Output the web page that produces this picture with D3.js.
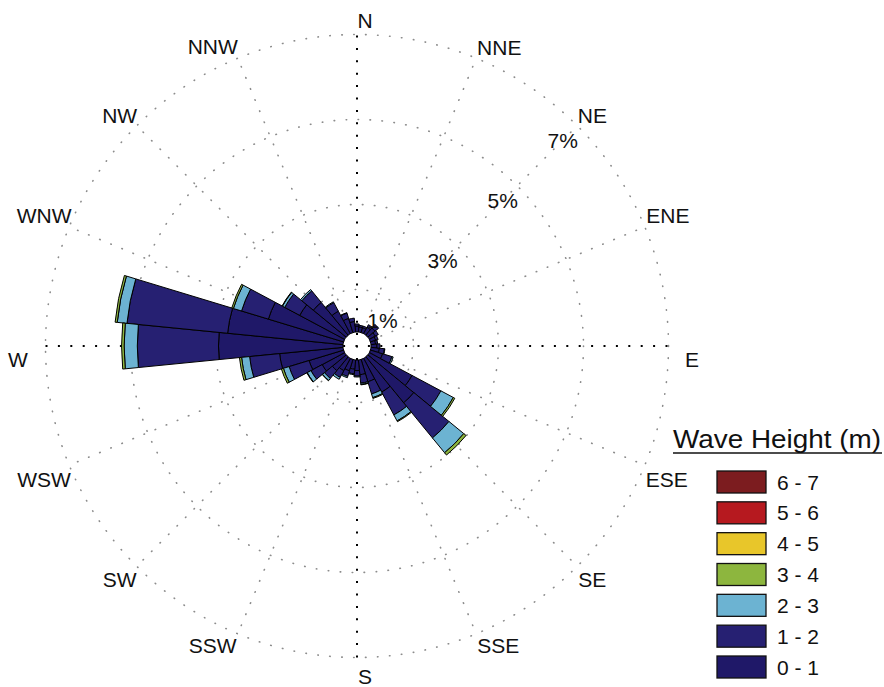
<!DOCTYPE html>
<html>
<head>
<meta charset="utf-8">
<script src="https://cdn.jsdelivr.net/npm/d3@7"></script>
<style>
  html, body { margin: 0; padding: 0; background: #ffffff; }
  svg { display: block; font-family: "Liberation Sans", Arial, Helvetica, sans-serif; }
</style>
</head>
<body>
<svg id="rose" width="884" height="687"></svg>
<script>
// 32 direction sectors, 11.25 degrees apart, starting at north
const directions = d3.range(32).map(k => k * 11.25);

// Frequency (%) per direction for each wave-height class
const h0to1 = [0.14, 0.12, 0.12, 0.17, 0.22, 0.16, 0.13, 0.11, 0.14, 0.20, 0.30, 1.14,
               1.40, 0.90, 0.55, 0.35, 0.25, 0.22, 0.28, 0.33, 0.42, 0.60, 0.85, 1.50,
               2.93, 2.73, 1.85, 1.20, 1.00, 0.60, 0.35, 0.25];
const h1to2 = [0.05, 0.04, 0.04, 0.07, 0.11, 0.08, 0.06, 0.05, 0.07, 0.12, 0.23, 0.77,
               1.07, 0.61, 0.30, 0.20, 0.13, 0.11, 0.14, 0.18, 0.24, 0.30, 0.49, 0.71,
               1.91, 2.38, 0.66, 0.40, 0.35, 0.23, 0.13, 0.08];
const h2to3 = [0.00, 0.00, 0.00, 0.00, 0.00, 0.00, 0.00, 0.00, 0.00, 0.01, 0.03, 0.33,
               0.45, 0.16, 0.09, 0.03, 0.02, 0.02, 0.03, 0.05, 0.06, 0.10, 0.14, 0.19,
               0.31, 0.23, 0.20, 0.06, 0.04, 0.02, 0.01, 0.00];
const h3to4 = [0.00, 0.00, 0.00, 0.00, 0.00, 0.00, 0.00, 0.00, 0.00, 0.00, 0.00, 0.04,
               0.07, 0.02, 0.02, 0.01, 0.00, 0.00, 0.00, 0.00, 0.01, 0.01, 0.05, 0.05,
               0.06, 0.05, 0.04, 0.01, 0.00, 0.00, 0.00, 0.00];

const legendLabels = ["6 - 7", "5 - 6", "4 - 5", "3 - 4", "2 - 3", "1 - 2", "0 - 1"];
const legendColors = ["#7c1c1f", "#b6191f", "#e8c62a", "#8db63e", "#6cb3d2", "#262072", "#1f1868"];
const seriesKeys = ["0 - 1", "1 - 2", "2 - 3", "3 - 4"];
const seriesValues = [h0to1, h1to2, h2to3, h3to4];

const ringValues = [1, 3, 5, 7];
const ringLabels = ["1%", "3%", "5%", "7%"];
const compassLabels = ["N", "NNE", "NE", "ENE", "E", "ESE", "SE", "SSE",
                       "S", "SSW", "SW", "WSW", "W", "WNW", "NW", "NNW"];

// ---- layout ----
const svg = d3.select("#rose");
const cx = 357, cy = 346;
const r = d3.scaleLinear().domain([0, 7]).range([14, 311.5]);
const color = d3.scaleOrdinal().domain(legendLabels).range(legendColors);
const rad = deg => deg * Math.PI / 180;

const g = svg.append("g").attr("transform", `translate(${cx},${cy})`);

// grid rings
g.selectAll("circle.ring").data(ringValues).join("circle")
  .attr("class", "ring")
  .attr("r", d => r(d))
  .attr("fill", "none")
  .attr("stroke", "#8c8c8c")
  .attr("stroke-width", 1.6)
  .attr("stroke-linecap", "round")
  .attr("stroke-dasharray", "0.5,11.5");

// grey spokes at the 16 compass points (except the main axes)
const spokeAngles = d3.range(16).map(i => i * 22.5).filter(a => a % 90 !== 0);
g.selectAll("line.spoke").data(spokeAngles).join("line")
  .attr("class", "spoke")
  .attr("x1", d => r(0) * Math.sin(rad(d)))
  .attr("y1", d => -r(0) * Math.cos(rad(d)))
  .attr("x2", d => r(7) * Math.sin(rad(d)))
  .attr("y2", d => -r(7) * Math.cos(rad(d)))
  .attr("stroke", "#8c8c8c")
  .attr("stroke-width", 1.6)
  .attr("stroke-linecap", "round")
  .attr("stroke-dasharray", "0.5,11.5");

// black dotted main axes
[[0, -1], [1, 0]].forEach(([sx, sy]) => {
  g.append("line")
    .attr("x1", -sx * r(7)).attr("y1", -sy * r(7))
    .attr("x2", sx * r(7)).attr("y2", sy * r(7))
    .attr("stroke", "#000")
    .attr("stroke-width", 2)
    .attr("stroke-dasharray", "2,10.4");
});

// stacked bars
const rows = directions.map((dir, i) => {
  const row = { dir };
  seriesKeys.forEach((k, j) => { row[k] = seriesValues[j][i]; });
  return row;
});
const stacked = d3.stack().keys(seriesKeys)(rows);
const half = 11.25 / 2;
const arc = d3.arc()
  .innerRadius(d => r(d[0]))
  .outerRadius(d => r(d[1]))
  .startAngle(d => rad(d.data.dir - half))
  .endAngle(d => rad(d.data.dir + half));

g.selectAll("g.layer").data(stacked).join("g")
  .attr("class", "layer")
  .attr("fill", s => color(s.key))
  .selectAll("path").data(s => s.filter(d => d[1] - d[0] > 0)).join("path")
  .attr("d", arc)
  .attr("stroke", "#000")
  .attr("stroke-width", 1)
  .attr("stroke-linejoin", "round");

// ring percentage labels along the NE diagonal
g.selectAll("text.pct").data(ringValues).join("text")
  .attr("class", "pct")
  .attr("x", (d) => (r(d) - 20.5) * Math.sin(rad(45)))
  .attr("y", (d) => -(r(d) - 20.5) * Math.cos(rad(45)))
  .attr("dy", "0.36em")
  .attr("text-anchor", "middle")
  .attr("font-size", 21)
  .attr("fill", "#111")
  .text((d, i) => ringLabels[i]);

// compass labels
const labelR = 330;
const nudge = {
  N: [9, 2.5], NNE: [17, 4.5], NE: [3, 1], ENE: [7, -6], E: [6, 11.5],
  ESE: [6, 6], SE: [3, -1], SSE: [16, -6.5], S: [9, -1.5],
  SSW: [-17, -7], SW: [-3, -1], WSW: [-7, 6], W: [-8, 11.5],
  WNW: [-7, -6], NW: [-3, 1], NNW: [-17, 3.5]
};
svg.append("g").selectAll("text").data(compassLabels).join("text")
  .attr("x", (d, i) => 356 + labelR * Math.sin(rad(i * 22.5)) + nudge[d][0])
  .attr("y", (d, i) => 347.5 - labelR * Math.cos(rad(i * 22.5)) + nudge[d][1])
  .attr("dy", "0.36em")
  .attr("text-anchor", "middle")
  .attr("font-size", 21)
  .attr("fill", "#111")
  .text(d => d);

// legend
const lg = svg.append("g");
lg.append("text")
  .attr("x", 673).attr("y", 448)
  .attr("font-size", 25)
  .attr("fill", "#111")
  .attr("textLength", 208)
  .attr("lengthAdjust", "spacingAndGlyphs")
  .text("Wave Height (m)");
lg.append("line")
  .attr("x1", 673).attr("x2", 882)
  .attr("y1", 453).attr("y2", 453)
  .attr("stroke", "#111").attr("stroke-width", 1.6);

const rowY = d3.scalePoint().domain(legendLabels).range([482, 667]);
const items = lg.selectAll("g.item").data(legendLabels).join("g").attr("class", "item");
items.append("rect")
  .attr("x", 717).attr("y", d => rowY(d) - 11)
  .attr("width", 49).attr("height", 22)
  .attr("fill", d => color(d))
  .attr("stroke", "#111").attr("stroke-width", 1.3);
items.append("text")
  .attr("x", 777).attr("y", d => rowY(d))
  .attr("dy", "0.36em")
  .attr("font-size", 21)
  .attr("fill", "#111")
  .text(d => d);
</script>
</body>
</html>
